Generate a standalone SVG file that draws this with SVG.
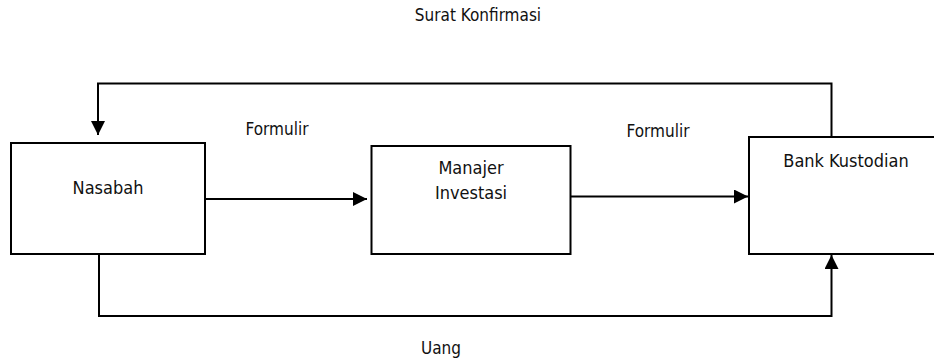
<svg xmlns="http://www.w3.org/2000/svg" width="934" height="360" viewBox="0 0 934 360">
<defs>
<marker id="ah" markerWidth="14" markerHeight="14" refX="14" refY="7" orient="auto" markerUnits="userSpaceOnUse">
<path d="M0,0 L14,7 L0,14 Z" fill="#000"/>
</marker>
<style>
.box{fill:#fff;stroke:#000;stroke-width:2}
.ln{fill:none;stroke:#000;stroke-width:2}
.nt{font-family:"DejaVu Sans Condensed","DejaVu Sans",sans-serif;font-size:18px;fill:#111;text-anchor:middle}
.lb{font-family:"DejaVu Sans Condensed","DejaVu Sans",sans-serif;font-size:17px;fill:#111;text-anchor:middle}
</style>
</defs>
<rect width="934" height="360" fill="#fff"/>
<g id="connectors">
<path class="ln" d="M831.5,137 V83.5 H98 V135" marker-end="url(#ah)"/>
<path class="ln" d="M204,199 H367" marker-end="url(#ah)"/>
<path class="ln" d="M570,196.5 H748" marker-end="url(#ah)"/>
<path class="ln" d="M99,254 V316 H831.5 V255" marker-end="url(#ah)"/>
</g>
<g id="nasabah">
<rect class="box" x="11" y="143" width="194" height="111"/>
<text class="nt" x="108" y="194">Nasabah</text>
</g>
<g id="manajer">
<rect class="box" x="371.5" y="146" width="199" height="108"/>
<text class="nt" x="471" y="174">Manajer</text>
<text class="nt" x="471" y="199">Investasi</text>
</g>
<g id="bank">
<rect class="box" x="749" y="137" width="200" height="117"/>
<text class="nt" x="846" y="166.5">Bank Kustodian</text>
</g>
<g id="labels">
<text class="lb" x="478" y="21">Surat Konfirmasi</text>
<text class="lb" x="277" y="135">Formulir</text>
<text class="lb" x="658" y="137">Formulir</text>
<text class="lb" x="441" y="354">Uang</text>
</g>
</svg>
